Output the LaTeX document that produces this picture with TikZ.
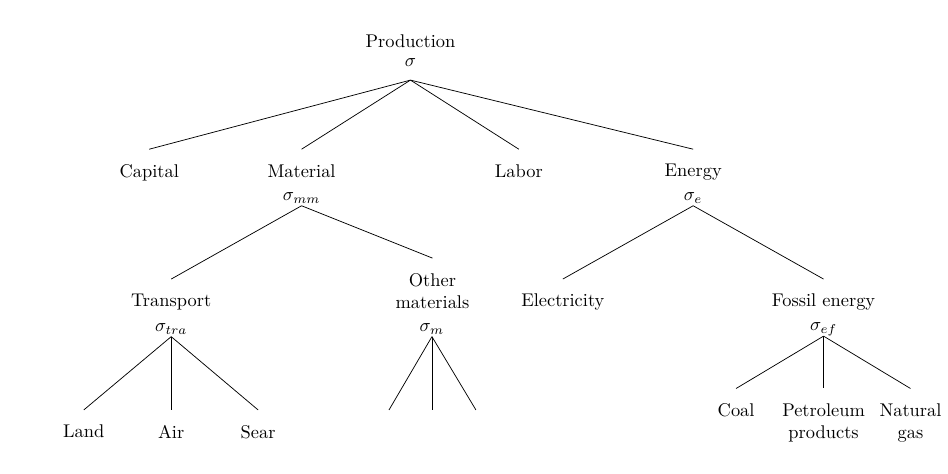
\documentclass[tikz,border=0pt]{standalone}
\usepackage{amsmath}
\usepackage{tikz}
\tikzset{
	lab/.style={anchor=north,inner ysep=8pt,align=center},
	sig/.style={anchor=south,text depth=0pt,inner ysep=2.7pt},
	branch/.style={black,line width=0.4pt}
}

\begin{document}
\begin{tikzpicture}[transform shape,scale=1]
		\useasboundingbox (0,0) rectangle (18.107,-9.053);
		% top level
		\node (prod) at (7.84,-0.79) {Production};
		\node[sig,inner ysep=7.4pt] (s-prod) at (7.84,-1.53) {$\sigma$};
		\node[lab] (cap) at (2.85,-2.85) {Capital};
		\node[lab] (mat) at (5.76,-2.85) {Material};
		\node[sig] (s-mat) at (5.76,-3.93) {$\sigma_{mm}$};
		\node[lab] (lab) at (9.91,-2.85) {Labor};
		\node[lab] (ene) at (13.24,-2.85) {Energy};
		\node[sig] (s-ene) at (13.24,-3.93) {$\sigma_{e}$};
		\draw[branch] (s-prod.south) -- (cap.north);
		\draw[branch] (s-prod.south) -- (mat.north);
		\draw[branch] (s-prod.south) -- (lab.north);
		\draw[branch] (s-prod.south) -- (ene.north);
		% material
		\node[lab] (tra) at (3.27,-5.33) {Transport};
		\node[sig] (s-tra) at (3.27,-6.43) {$\sigma_{tra}$};
		\node[lab] (oth) at (8.26,-4.93) {Other\\materials};
		\node[sig] (s-oth) at (8.25,-6.43) {$\sigma_{m}$};
		\draw[branch] (s-mat.south) -- (tra.north);
		\draw[branch] (s-mat.south) -- (oth.north);
		% energy
		\node[lab] (ele) at (10.75,-5.33) {Electricity};
		\node[lab] (fos) at (15.73,-5.33) {Fossil energy};
		\node[sig] (s-fos) at (15.73,-6.42) {$\sigma_{ef}$};
		\draw[branch] (s-ene.south) -- (ele.north);
		\draw[branch] (s-ene.south) -- (fos.north);
		% transport
		\node[lab] (land) at (1.60,-7.83) {Land};
		\node[lab] (air) at (3.27,-7.83) {Air};
		\node[lab] (sear) at (4.93,-7.83) {Sear};
		\draw[branch] (s-tra.south) -- (land.north);
		\draw[branch] (s-tra.south) -- (air.north);
		\draw[branch] (s-tra.south) -- (sear.north);
		% other materials
		\coordinate (om1) at (7.43,-7.83);
		\coordinate (om2) at (8.25,-7.83);
		\coordinate (om3) at (9.09,-7.83);
		\draw[branch] (s-oth.south) -- (om1);
		\draw[branch] (s-oth.south) -- (om2);
		\draw[branch] (s-oth.south) -- (om3);
		% fossil energy
		\node[lab] (coal) at (14.06,-7.42) {Coal};
		\node[lab] (pet) at (15.73,-7.42) {Petroleum\\products};
		\node[lab] (gas) at (17.39,-7.42) {Natural\\gas};
		\draw[branch] (s-fos.south) -- (coal.north);
		\draw[branch] (s-fos.south) -- (pet.north);
		\draw[branch] (s-fos.south) -- (gas.north);
	\end{tikzpicture}
\end{document}
